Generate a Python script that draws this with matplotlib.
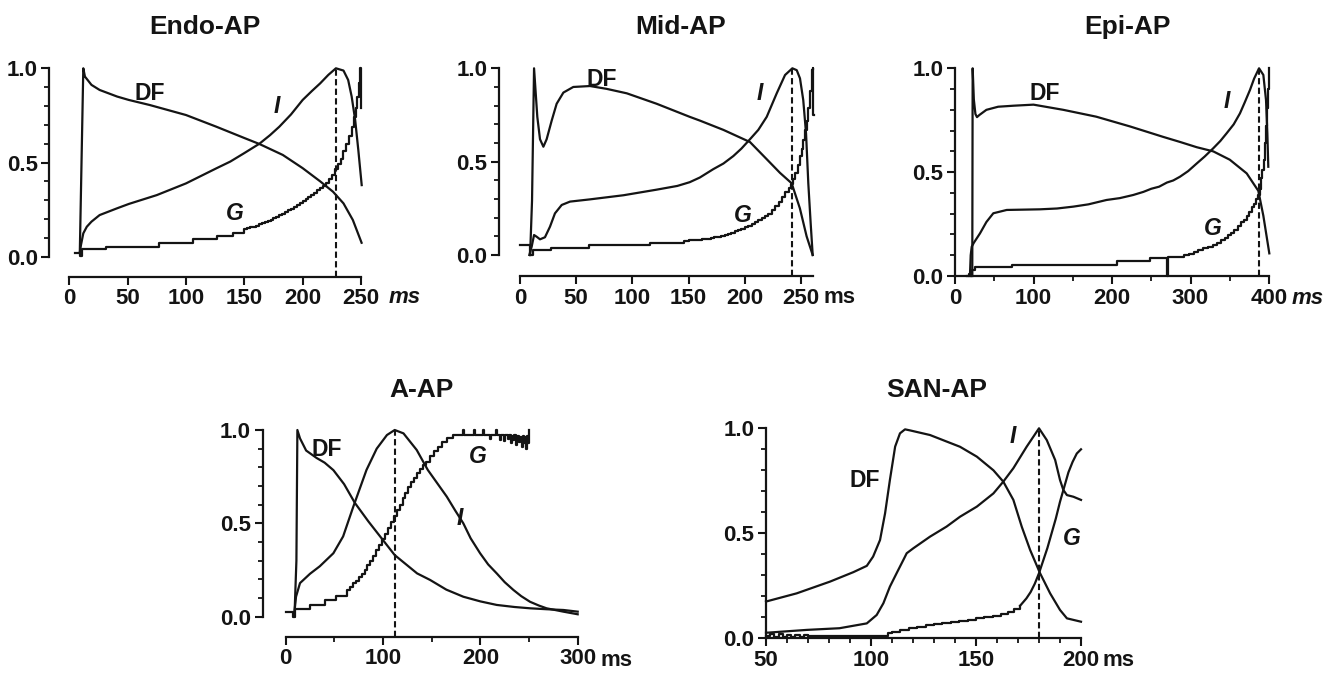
import matplotlib
matplotlib.use('Agg')
import matplotlib.pyplot as plt
from matplotlib.ticker import FixedLocator

plt.rcParams['font.family'] = ['Liberation Sans', 'DejaVu Sans']
plt.rcParams['font.weight'] = 'bold'

W, H = 1337, 674
DPI = 100
INK = '#141414'

# ---------------- data ----------------
# Endo-AP
endo_df_t = [9, 12, 13.4, 19, 26, 41, 51, 69, 100, 126, 150, 163, 183, 200, 215, 226, 235, 243, 250.5]
endo_df_v = [0.02, 1.0, 0.956, 0.912, 0.885, 0.85, 0.832, 0.805, 0.752, 0.69, 0.63, 0.598, 0.54, 0.47, 0.40, 0.345, 0.283, 0.195, 0.074]
endo_i_t = [9, 10, 12, 15, 19, 26, 41, 51, 75, 100, 126, 138, 150, 163, 172, 180, 190, 200, 208, 215, 222, 228.5, 235, 239, 242, 245, 247.7, 250.6]
endo_i_v = [0.02, 0.062, 0.124, 0.159, 0.186, 0.221, 0.257, 0.28, 0.327, 0.389, 0.469, 0.505, 0.55, 0.60, 0.645, 0.69, 0.755, 0.832, 0.88, 0.92, 0.965, 1.0, 0.988, 0.938, 0.85, 0.726, 0.566, 0.38]
endo_g_t = [5, 9, 10.6, 31.4, 77, 105.7, 126.3, 140.6,
            150, 152.5, 155, 157.5, 160, 162.5, 165, 167.5, 170, 172.5, 175, 177.5, 180, 182.5, 185, 187.5,
            190, 192.5, 195, 197.5, 200, 202.5, 205, 207.5, 210, 212.5, 215, 217.5, 220, 222.5, 225, 227.5,
            230, 232.5, 235, 237.5, 240, 242, 244, 245.5, 247, 248, 249, 250, 250.4]
endo_g_v = [0.021, 0.005, 0.039, 0.053, 0.071, 0.092, 0.11, 0.127,
            0.145, 0.15, 0.155, 0.16, 0.165, 0.171, 0.177, 0.183, 0.19, 0.197, 0.205, 0.212, 0.22, 0.228, 0.237, 0.246,
            0.255, 0.265, 0.275, 0.285, 0.295, 0.306, 0.317, 0.328, 0.34, 0.352, 0.364, 0.377, 0.39, 0.41, 0.435, 0.465,
            0.49, 0.52, 0.56, 0.60, 0.64, 0.69, 0.74, 0.79, 0.85, 0.92, 1.0, 0.79, 0.79]

# Mid-AP
mid_df_t = [9, 10.7, 12.5, 15.4, 17.8, 20.8, 23.7, 28.2, 32.6, 38.6, 47.4, 62.3, 77, 95, 121.6, 151, 160, 181, 204.6, 220, 231.3, 241.7, 249, 255, 260.4]
mid_df_v = [0.0, 0.29, 1.0, 0.74, 0.62, 0.58, 0.62, 0.72, 0.81, 0.87, 0.90, 0.905, 0.89, 0.866, 0.81, 0.74, 0.72, 0.67, 0.605, 0.51, 0.44, 0.384, 0.25, 0.10, 0.0]
mid_i_t = [8.3, 10.4, 12.5, 14.8, 17.8, 22.2, 26.7, 31.1, 37.1, 44.5, 62.3, 92, 121.6, 140, 151, 160, 172, 181, 189.8, 197, 204.6, 212, 219.5, 228.4, 235.8, 242.3, 246.2, 249.1, 252, 254.5, 256.5, 258.6, 260.4]
mid_i_v = [0.0, 0.045, 0.107, 0.098, 0.084, 0.095, 0.152, 0.223, 0.268, 0.286, 0.298, 0.32, 0.35, 0.37, 0.39, 0.415, 0.46, 0.49, 0.53, 0.57, 0.62, 0.67, 0.74, 0.866, 0.964, 1.0, 0.99, 0.946, 0.83, 0.65, 0.384, 0.17, 0.0]
mid_g_t = [0, 9, 12, 28, 61, 116, 146, 150, 154, 158, 162, 166, 170, 173, 176, 179, 182, 185, 188, 191, 194, 197,
           200, 203, 206, 209, 212, 215, 218, 221, 224, 227, 230, 233, 236, 239, 241, 243, 245, 247, 249, 250.5,
           252, 253.5, 255, 256.5, 258, 259.5, 260.5, 261, 261.3]
mid_g_v = [0.054, 0.0, 0.027, 0.04, 0.054, 0.066, 0.075, 0.078, 0.08, 0.082, 0.085, 0.088, 0.091, 0.094, 0.098, 0.103, 0.108, 0.114, 0.12, 0.127, 0.134, 0.141,
           0.148, 0.156, 0.165, 0.175, 0.186, 0.197, 0.208, 0.222, 0.24, 0.26, 0.283, 0.308, 0.335, 0.36, 0.378, 0.405, 0.44, 0.48, 0.53, 0.57,
           0.616, 0.67, 0.72, 0.79, 0.88, 0.99, 1.0, 0.75, 0.75]

# Epi-AP
epi_df_t = [22, 22.5, 24, 26, 28, 31, 40, 55, 75, 100, 138, 180, 223, 265, 287, 308, 329, 350, 371.6, 386.4, 392.8, 397, 400.4]
epi_df_v = [0.0, 1.0, 0.85, 0.78, 0.765, 0.775, 0.80, 0.815, 0.82, 0.825, 0.80, 0.767, 0.72, 0.67, 0.645, 0.62, 0.60, 0.56, 0.494, 0.41, 0.29, 0.19, 0.109]
epi_i_t = [19, 20, 21.3, 24, 31.8, 40, 48.8, 65.9, 108, 130, 150.7, 170, 193, 210, 227, 240, 250, 260, 270, 278, 286.6, 297, 308, 318, 329, 338, 346, 355, 363, 369, 375.8, 381, 387.3, 392.8, 396.2, 397.9, 399.1]
epi_i_v = [0.0, 0.1, 0.141, 0.16, 0.205, 0.26, 0.302, 0.318, 0.321, 0.325, 0.334, 0.345, 0.366, 0.375, 0.39, 0.405, 0.42, 0.43, 0.45, 0.46, 0.478, 0.505, 0.542, 0.575, 0.615, 0.65, 0.687, 0.73, 0.783, 0.835, 0.896, 0.95, 1.0, 0.968, 0.847, 0.687, 0.526]
epi_g_t = [15, 18, 20, 22, 25.5, 72, 206, 248, 270, 271, 286, 292, 298, 304, 310, 316, 322, 329, 334, 339, 344, 348,
           352, 356, 360, 364, 368, 372, 375, 378, 381, 384, 386, 388, 390, 391.5, 393, 394.5, 396, 397.5, 399, 400.4, 400.6]
epi_g_v = [0.0, 0.01, 0.0, 0.03, 0.045, 0.053, 0.07, 0.085, 0.0, 0.093, 0.093, 0.1, 0.107, 0.115, 0.124, 0.133, 0.141, 0.149, 0.16, 0.172, 0.184, 0.195,
           0.207, 0.222, 0.24, 0.258, 0.272, 0.29, 0.31, 0.33, 0.345, 0.37, 0.39, 0.42, 0.47, 0.51, 0.56, 0.64, 0.72, 0.81, 0.9, 1.0, 1.0]

# A-AP
aap_df_t = [9, 11, 12, 14.7, 21, 31.8, 40, 49, 60, 71, 85, 97, 112, 135, 148.3, 165, 182.5, 200, 216.8, 235, 251, 268, 285.3, 300]
aap_df_v = [0.0, 0.3, 1.0, 0.955, 0.89, 0.85, 0.825, 0.785, 0.71, 0.61, 0.51, 0.43, 0.33, 0.232, 0.197, 0.145, 0.107, 0.082, 0.063, 0.052, 0.045, 0.04, 0.036, 0.027]
aap_i_t = [8.5, 10.6, 14.7, 25, 35, 49, 59, 69.5, 83, 93.5, 104, 112, 121, 134.6, 146, 155, 165.5, 174, 182.5, 190, 199.7, 208, 216.8, 225, 234, 242, 251, 260, 268, 285.3, 300]
aap_i_v = [0.0, 0.107, 0.18, 0.23, 0.27, 0.34, 0.43, 0.59, 0.786, 0.90, 0.973, 1.0, 0.982, 0.893, 0.786, 0.72, 0.643, 0.57, 0.5, 0.42, 0.34, 0.28, 0.232, 0.185, 0.143, 0.11, 0.08, 0.06, 0.045, 0.027, 0.013]
aap_g_t = [0, 8, 10, 25, 40, 52, 63, 66, 69, 72, 75, 78, 81, 84, 87, 90, 93, 96, 99, 102, 105, 108, 111, 114, 117, 120, 123, 126, 129, 132, 135, 138, 141, 144, 148, 152, 156, 161, 166, 172,
           182, 183, 193, 194, 203, 204, 210, 211, 216, 217, 220, 221, 224, 225, 228, 229, 231, 232, 234, 235, 237, 238, 240, 241, 243, 244, 245, 246, 247, 248, 249, 250, 250.4]
aap_g_v = [0.027, 0.0, 0.04, 0.0625, 0.089, 0.11, 0.143, 0.16, 0.178, 0.192, 0.21, 0.23, 0.25, 0.275, 0.30, 0.325, 0.355, 0.385, 0.415, 0.445, 0.475, 0.505, 0.54, 0.57, 0.60, 0.635, 0.665, 0.695, 0.72, 0.745, 0.77, 0.79, 0.81, 0.83, 0.86, 0.885, 0.91, 0.935, 0.955, 0.973,
           1.0, 0.973, 1.0, 0.973, 1.0, 0.973, 0.95, 0.973, 1.0, 0.973, 0.945, 0.973, 0.94, 0.973, 0.95, 0.973, 0.93, 0.97, 0.945, 0.973, 0.92, 0.97, 0.935, 0.965, 0.91, 0.97, 0.93, 0.96, 0.90, 0.97, 0.93, 1.0, 1.0]

# SAN-AP
san_df_t = [50, 64.6, 80.5, 91.6, 98, 101, 104.3, 106.7, 109, 111.5, 113.8, 116.2, 118.6, 128.1, 136, 142.4, 150.4, 158.3, 163, 167.8, 171.8, 175.8, 180.5, 185.3, 190, 193.3, 200]
san_df_v = [0.175, 0.214, 0.27, 0.315, 0.345, 0.389, 0.468, 0.595, 0.754, 0.913, 0.976, 0.995, 0.99, 0.968, 0.937, 0.912, 0.865, 0.80, 0.746, 0.659, 0.531, 0.42, 0.31, 0.214, 0.135, 0.095, 0.079]
san_i_t = [50, 51, 69.4, 85, 98, 102.7, 105.9, 109, 112.2, 115.4, 117, 120.2, 128.1, 136, 142.4, 150.4, 158.3, 163, 167.8, 174.1, 180, 183.7, 187.7, 190, 191.6, 193.3, 196.4, 200]
san_i_v = [0.027, 0.027, 0.04, 0.048, 0.071, 0.111, 0.167, 0.246, 0.31, 0.373, 0.405, 0.429, 0.484, 0.532, 0.579, 0.627, 0.69, 0.746, 0.81, 0.912, 1.0, 0.944, 0.849, 0.754, 0.706, 0.682, 0.674, 0.659]
san_g_t = [50, 52, 54, 56, 58, 60, 62, 64, 66, 68, 70, 108, 110, 114, 118, 122, 126, 130, 134, 138, 142, 146, 150, 154, 158, 162, 165, 168, 171,
           174, 176, 178, 180, 182, 184, 186, 188, 190, 192, 194, 196, 198, 200]
san_g_v = [0.01, 0.02, 0.005, 0.02, 0.005, 0.018, 0.005, 0.018, 0.006, 0.015, 0.01, 0.025, 0.032, 0.04, 0.05, 0.056, 0.062, 0.067, 0.072, 0.077, 0.083, 0.089, 0.095, 0.1, 0.106, 0.115, 0.125, 0.138, 0.155,
           0.19, 0.22, 0.26, 0.31, 0.37, 0.43, 0.5, 0.57, 0.65, 0.72, 0.79, 0.84, 0.88, 0.9]
san_g_step_until = 28   # index: stepped part, smooth afterwards

peak_times = {'endo': 228.5, 'mid': 242, 'epi': 387, 'aap': 112, 'san': 180}

# ---------------- figure ----------------
fig = plt.figure(figsize=(W / DPI, H / DPI), dpi=DPI)
fig.patch.set_facecolor('white')

TICK_FS = 16
LAB_FS = 16.5
TITLE_FS = 19
LW = 1.6


def make_axes(xd, xp, yd, yp, xlim, ylim):
    sx = (xp[1] - xp[0]) / (xd[1] - xd[0])
    sy = (yp[1] - yp[0]) / (yd[1] - yd[0])
    left = xp[0] + (xlim[0] - xd[0]) * sx
    right = xp[0] + (xlim[1] - xd[0]) * sx
    top = yp[0] + (ylim[1] - yd[0]) * sy
    bottom = yp[0] + (ylim[0] - yd[0]) * sy
    ax = fig.add_axes([left / W, 1 - bottom / H, (right - left) / W, (bottom - top) / H])
    ax.set_xlim(xlim)
    ax.set_ylim(ylim)
    ax.patch.set_alpha(0)
    for s in ('top', 'right'):
        ax.spines[s].set_visible(False)
    for s in ('left', 'bottom'):
        ax.spines[s].set_linewidth(1.6)
        ax.spines[s].set_color(INK)
    ax.spines['left'].set_bounds(0, 1)
    ax.yaxis.set_major_locator(FixedLocator([0, 0.5, 1.0]))
    ax.yaxis.set_minor_locator(FixedLocator([0.1, 0.2, 0.3, 0.4, 0.6, 0.7, 0.8, 0.9]))
    ax.set_yticklabels(['0.0', '0.5', '1.0'])
    ax.tick_params(which='major', direction='out', length=6, width=1.5, colors=INK,
                   labelsize=TICK_FS, pad=2.5)
    ax.tick_params(which='minor', direction='out', length=3.5, width=1.3, colors=INK)
    for lab in ax.get_xticklabels() + ax.get_yticklabels():
        lab.set_fontweight('bold')
    return ax


def draw(ax, df_t, df_v, i_t, i_v, g_t, g_v, tpk, ybot, g_split=None):
    kw = dict(color=INK, lw=LW, clip_on=False, solid_joinstyle='round')
    ax.plot(df_t, df_v, **kw)
    ax.plot(i_t, i_v, **kw)
    if g_split is None:
        ax.plot(g_t, g_v, drawstyle='steps-post', **kw)
    else:
        ax.plot(g_t[:g_split + 1], g_v[:g_split + 1], drawstyle='steps-post', **kw)
        ax.plot(g_t[g_split:], g_v[g_split:], **kw)
    ax.plot([tpk, tpk], [ybot, 1.0], color=INK, lw=1.5, ls=(0, (3, 1.6)), clip_on=False)


def ftext(px, pyc, s, size, style='normal', ha='center'):
    base = pyc + 0.716 * size * DPI / 72 / 2
    fig.text(px / W, 1 - base / H, s, fontsize=size, fontweight='bold', fontstyle=style,
             ha=ha, va='baseline', color=INK)


def xticks(ax, major, minor=None):
    ax.xaxis.set_major_locator(FixedLocator(major))
    ax.xaxis.set_minor_locator(FixedLocator(minor if minor is not None else []))
    ax.set_xticklabels([str(m) for m in major])
    for lab in ax.get_xticklabels():
        lab.set_fontweight('bold')


# Endo-AP
ax1 = make_axes((0, 250), (69.3, 361.0), (0, 1), (256.7, 68.3), (-17, 262), (-0.106, 1.02))
ax1.spines['bottom'].set_bounds(0, 250)
xticks(ax1, [0, 50, 100, 150, 200, 250])
draw(ax1, endo_df_t, endo_df_v, endo_i_t, endo_i_v, endo_g_t, endo_g_v, peak_times['endo'], -0.106)

# Mid-AP
ax2 = make_axes((0, 250), (520, 801), (0, 1), (255, 68.3), (-18.4, 270), (-0.1125, 1.02))
ax2.spines['bottom'].set_bounds(0, 261)
xticks(ax2, [0, 50, 100, 150, 200, 250])
draw(ax2, mid_df_t, mid_df_v, mid_i_t, mid_i_v, mid_g_t, mid_g_v, peak_times['mid'], -0.1125)

# Epi-AP
ax3 = make_axes((0, 400), (955, 1269), (0, 1), (276, 68.3), (0, 410), (0, 1.02))
ax3.spines['bottom'].set_bounds(0, 400)
xticks(ax3, [0, 100, 200, 300, 400], [50, 150, 250, 350])
draw(ax3, epi_df_t, epi_df_v, epi_i_t, epi_i_v, epi_g_t, epi_g_v, peak_times['epi'], 0)

# A-AP
ax4 = make_axes((0, 300), (285.7, 577.7), (0, 1), (616.7, 430), (-23.6, 310), (-0.107, 1.02))
ax4.spines['bottom'].set_bounds(0, 300)
xticks(ax4, [0, 100, 200, 300], [50, 150, 250])
draw(ax4, aap_df_t, aap_df_v, aap_i_t, aap_i_v, aap_g_t, aap_g_v, peak_times['aap'], -0.107)

# SAN-AP
ax5 = make_axes((50, 200), (766, 1081), (0, 1), (638.3, 428.3), (50, 205), (0, 1.02))
ax5.spines['bottom'].set_bounds(50, 200)
xticks(ax5, [50, 100, 150, 200], list(range(60, 200, 10)))
draw(ax5, san_df_t, san_df_v, san_i_t, san_i_v, san_g_t, san_g_v, peak_times['san'], 0,
     g_split=san_g_step_until)

# titles
ftext(205, 25, 'Endo-AP', TITLE_FS)
ftext(681, 25, 'Mid-AP', TITLE_FS)
ftext(1127, 25, 'Epi-AP', TITLE_FS)
ftext(422, 388, 'A-AP', TITLE_FS)
ftext(937, 388, 'SAN-AP', TITLE_FS)

# curve labels
ftext(150, 91.7, 'DF', LAB_FS)
ftext(277, 105, 'I', LAB_FS, 'italic')
ftext(235, 211.7, 'G', LAB_FS, 'italic')
ftext(602, 77.3, 'DF', LAB_FS)
ftext(760, 91.7, 'I', LAB_FS, 'italic')
ftext(743, 213.3, 'G', LAB_FS, 'italic')
ftext(1045, 91.7, 'DF', LAB_FS)
ftext(1227, 100, 'I', LAB_FS, 'italic')
ftext(1213, 226.7, 'G', LAB_FS, 'italic')
ftext(327, 448, 'DF', LAB_FS)
ftext(478, 455, 'G', LAB_FS, 'italic')
ftext(460, 516.7, 'I', LAB_FS, 'italic')
ftext(865, 478.3, 'DF', LAB_FS)
ftext(1013, 435, 'I', LAB_FS, 'italic')
ftext(1072, 536.7, 'G', LAB_FS, 'italic')


# unit labels
def unit(px, base_py, style):
    fig.text(px / W, 1 - base_py / H, 'ms', fontsize=TICK_FS, fontweight='bold', fontstyle=style,
             ha='left', va='baseline', color=INK)


unit(389, 303, 'italic')
unit(823, 303, 'normal')
unit(1292, 304, 'italic')
unit(601, 666, 'normal')
unit(1103, 666, 'normal')

fig.savefig('out.png', dpi=DPI, facecolor='white')
